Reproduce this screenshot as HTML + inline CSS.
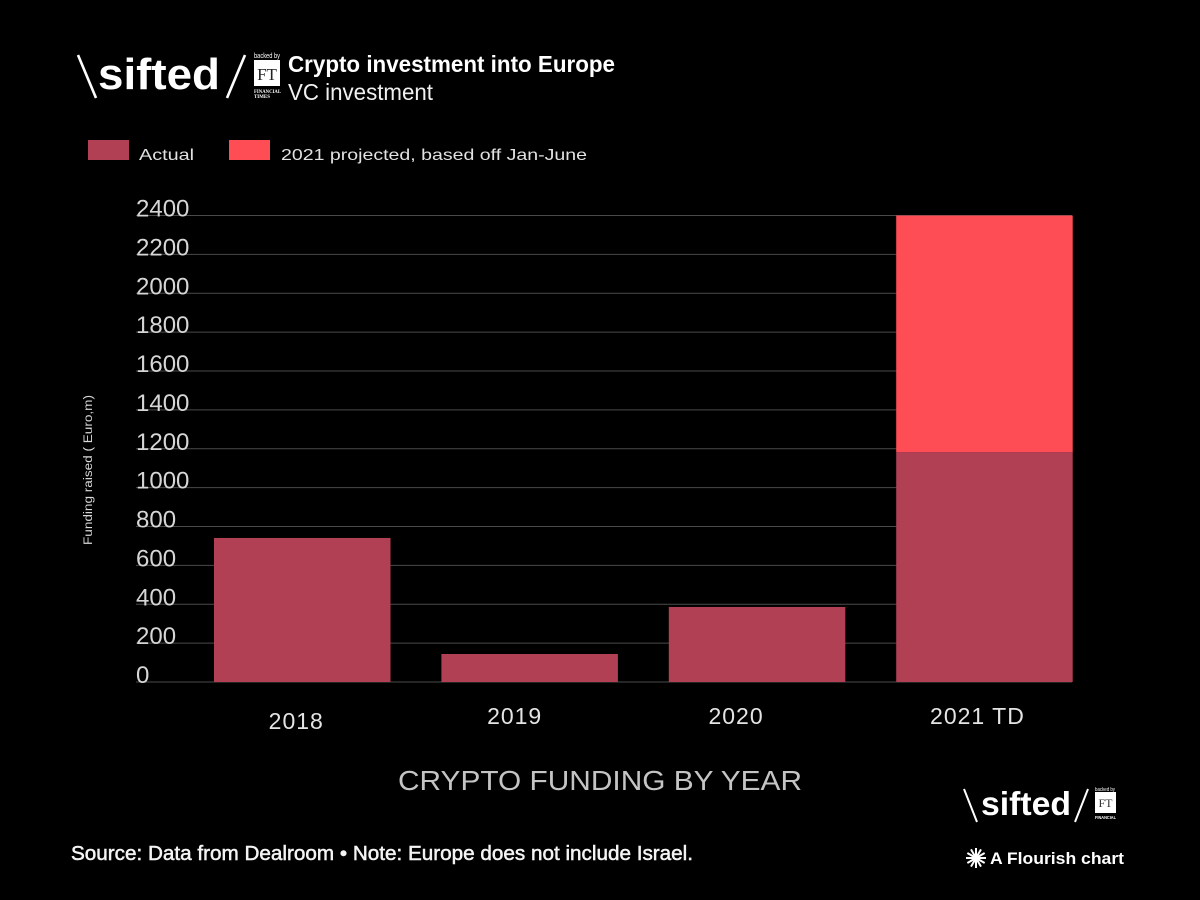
<!DOCTYPE html>
<html lang="en">
<head>
<meta charset="utf-8">
<title>Crypto investment into Europe</title>
<style>
html,body{margin:0;padding:0;background:#000;width:1200px;height:900px;overflow:hidden}
svg{display:block}
text{font-family:"Liberation Sans",sans-serif}
</style>
</head>
<body>
<svg id="chart" xmlns="http://www.w3.org/2000/svg" width="1200" height="900" viewBox="0 0 1200 900">
  <rect width="1200" height="900" fill="#000"/>

  <g fill="#fff">
    <line x1="78" y1="55" x2="96" y2="98" stroke="#fff" stroke-width="2.6"/>
    <text x="98" y="89" font-size="44" font-weight="700" textLength="122" lengthAdjust="spacingAndGlyphs">sifted</text>
    <line x1="245" y1="55" x2="227" y2="98" stroke="#fff" stroke-width="2.6"/>
    <text x="254" y="58" font-size="7" textLength="26" lengthAdjust="spacingAndGlyphs">backed by</text>
    <rect x="254" y="60" width="26" height="26" fill="#fff"/>
    <text x="267" y="80" font-size="17" text-anchor="middle" fill="#222" style="font-family:'Liberation Serif',serif">FT</text>
    <text x="254" y="93" font-size="5.5" font-weight="700" textLength="27" lengthAdjust="spacingAndGlyphs" style="font-family:'Liberation Serif',serif">FINANCIAL</text>
    <text x="254" y="98" font-size="5.5" font-weight="700" textLength="16" lengthAdjust="spacingAndGlyphs" style="font-family:'Liberation Serif',serif">TIMES</text>
  </g>

  <text x="288" y="72" font-size="23" font-weight="700" fill="#fff" textLength="327" lengthAdjust="spacingAndGlyphs">Crypto investment into Europe</text>
  <text x="288" y="100" font-size="23" fill="#f0f0f0" textLength="145" lengthAdjust="spacingAndGlyphs">VC investment</text>

  <g>
    <rect x="88" y="140" width="41" height="20" fill="#b24054"/>
    <text x="139" y="160" font-size="16" fill="#e2e2e2" textLength="55" lengthAdjust="spacingAndGlyphs">Actual</text>
    <rect x="229" y="140" width="41" height="20" fill="#ff4d55"/>
    <text x="281" y="160" font-size="16" fill="#e2e2e2" textLength="306" lengthAdjust="spacingAndGlyphs">2021 projected, based off Jan-June</text>
  </g>

  <g id="grid"></g>
  <g id="ticks"></g>
  <g id="bars"></g>
  <g id="cats"></g>

  <text transform="translate(92 470) rotate(-90)" font-size="11.5" fill="#d8d8d8" text-anchor="middle" textLength="150" lengthAdjust="spacingAndGlyphs">Funding raised ( Euro,m)</text>
  <text x="398" y="790" font-size="28" fill="#c4c4c4" textLength="404" lengthAdjust="spacingAndGlyphs">CRYPTO FUNDING BY YEAR</text>
  <text x="71" y="860" font-size="20" fill="#f4f4f4" stroke="#f4f4f4" stroke-width="0.5" textLength="622" lengthAdjust="spacingAndGlyphs">Source: Data from Dealroom • Note: Europe does not include Israel.</text>

  <g fill="#fff">
    <line x1="964" y1="789" x2="977" y2="822" stroke="#fff" stroke-width="2"/>
    <text x="981" y="815" font-size="33" font-weight="700" textLength="90" lengthAdjust="spacingAndGlyphs">sifted</text>
    <line x1="1088" y1="789" x2="1075" y2="822" stroke="#fff" stroke-width="2"/>
    <rect x="1095" y="792" width="21" height="21" fill="#fff"/>
    <text x="1105.5" y="807" font-size="12" text-anchor="middle" fill="#333" style="font-family:'Liberation Serif',serif">FT</text>
    <text x="1095" y="791" font-size="5" textLength="20" lengthAdjust="spacingAndGlyphs">backed by</text>
    <text x="1095" y="819" font-size="4.5" font-weight="700" textLength="21" lengthAdjust="spacingAndGlyphs">FINANCIAL</text>
  </g>

  <g id="burst"></g>
  <text x="990" y="864" font-size="17" font-weight="700" fill="#fff" textLength="134" lengthAdjust="spacingAndGlyphs">A Flourish chart</text>
</svg>

<script>
const categories = ["2018", "2019", "2020", "2021 TD"];
const actualValues = [741, 144, 386, 1183];
const projectedValues = [0, 0, 0, 1217];
const yTickLabels = [0, 200, 400, 600, 800, 1000, 1200, 1400, 1600, 1800, 2000, 2200, 2400];

const NS = "http://www.w3.org/2000/svg";
const yScale = v => 682 - v * (466.5 / 2400);
const xScale = i => 214 + i * 227.4;
const bandWidth = 176.5;
const ACTUAL_COLOR = "#b24054";
const PROJECTED_COLOR = "#ff4d55";

// The reference's hand-placed category labels sit left of their bar centres.
function labelNudge(i) {
  if (i === 0) return -6;
  if (i === 1) return -15;
  if (i === 2) return -21;
  return -7;
}

function make(tag, attrs, parent) {
  const el = document.createElementNS(NS, tag);
  for (const k in attrs) el.setAttribute(k, attrs[k]);
  parent.appendChild(el);
  return el;
}

const grid = document.getElementById("grid");
const ticks = document.getElementById("ticks");
const bars = document.getElementById("bars");
const cats = document.getElementById("cats");
const burst = document.getElementById("burst");

yTickLabels.forEach(v => {
  const y = yScale(v);
  const line = make("line", {x1: 136, x2: 1072, y1: y, y2: y, stroke: "#4a4a4a", "stroke-width": 1}, grid);
  
  
  const label = make("text", {x: 136, y: y + 1, "font-size": 24, fill: "#d6d6d6"}, ticks);
  
  
  label.textContent = String(v);
});

categories.forEach((c, i) => {
  const a = actualValues[i];
  const p = projectedValues[i];
  const actual = make("rect", {x: xScale(i), y: yScale(a), width: bandWidth, height: yScale(0) - yScale(a), fill: ACTUAL_COLOR}, bars);
  
  
  if (p > 0) {
    const proj = make("rect", {x: xScale(i), y: yScale(a + p), width: bandWidth, height: yScale(a) - yScale(a + p), fill: PROJECTED_COLOR}, bars);
    
    
  }
  const label = make("text", {x: xScale(i) + bandWidth / 2 + labelNudge(i), y: i === 0 ? 729 : 724, "font-size": 23, "letter-spacing": 1, fill: "#e4e4e4", "text-anchor": "middle"}, cats);
  
  
  label.textContent = c;
});

for (let a = 0; a < 360; a += 30) {
  const r = a * Math.PI / 180;
  const ray = make("line", {x1: 976, y1: 858, x2: 976 + 10 * Math.cos(r), y2: 858 + 10 * Math.sin(r), stroke: "#fff", "stroke-width": 2}, burst);
  
  
}
</script>
</body>
</html>
